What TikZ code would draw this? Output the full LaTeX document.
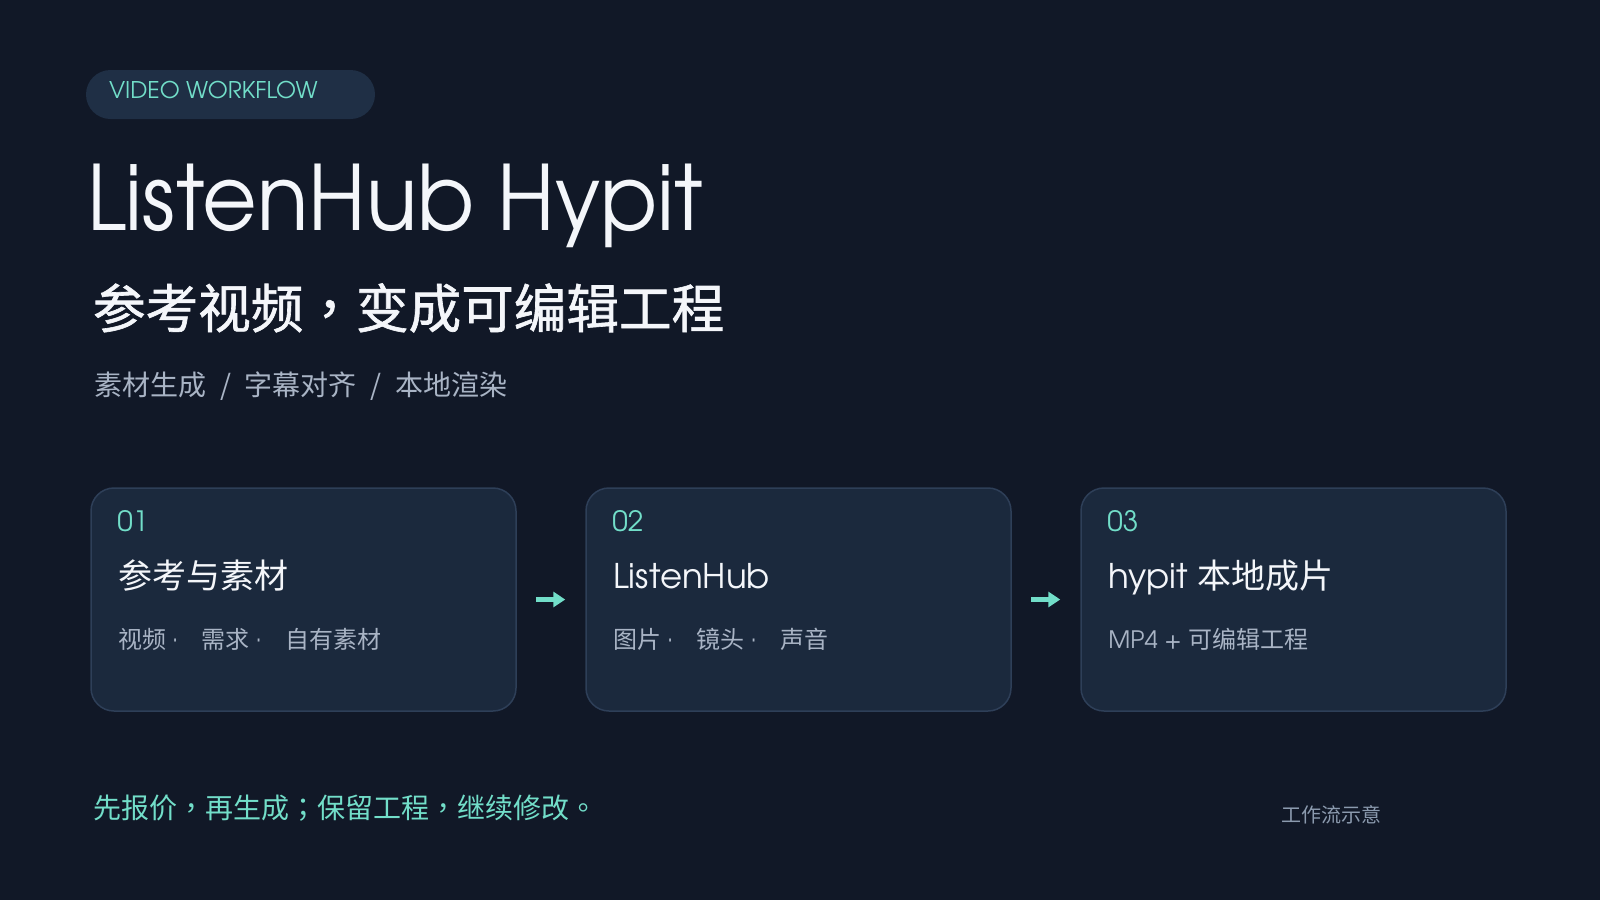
\documentclass[tikz,border=0pt]{standalone}
\usepackage{fontspec}
\IfFontExistsTF{texgyreadventor-regular.otf}
  {\setmainfont{texgyreadventor-regular.otf}
   \newfontfamily\ttl{texgyreadventor-regular.otf}[FakeStretch=0.935]}
  {\setmainfont{Poppins}
   \newfontfamily\ttl{Poppins}[FakeStretch=0.9]}
\newfontfamily\cjk{Noto Sans CJK SC}
\newfontfamily\cjkm{Noto Sans CJK SC}[FakeBold=1.2]
\newfontfamily\cjkp{Noto Sans CJK TC}
\newfontfamily\cjkpm{Noto Sans CJK TC}[FakeBold=1.2]
\newcommand\mydot{\hspace{3pt}\raisebox{1pt}{·}\hspace{12pt}}
\usetikzlibrary{calc,arrows.meta}
\definecolor{bg}{HTML}{111827}
\definecolor{pillc}{HTML}{1F2F45}
\definecolor{cardc}{HTML}{1B293D}
\definecolor{cardb}{HTML}{2E3F58}
\definecolor{teal}{HTML}{72DEC9}
\definecolor{wht}{HTML}{F4F6FA}
\definecolor{gry}{HTML}{A9B4C5}
\definecolor{capg}{HTML}{8B9AAE}
\begin{document}
\begin{tikzpicture}[x=0.5pt,y=-0.5pt,
  txt/.style={inner sep=0pt,outer sep=0pt,anchor=base west},
  pill/.style={fill=pillc,rounded corners=12.25pt,minimum width=144.5pt,minimum height=24.5pt,inner sep=0pt},
  card/.style={fill=cardc,draw=cardb,line width=0.75pt,rounded corners=11.5pt,minimum width=212.5pt,minimum height=111.5pt,inner sep=0pt},
  num/.style={txt,text=teal,font=\fontsize{14}{16}\selectfont},
  ctitle/.style={txt,text=wht,font=\fontsize{17}{20}\selectfont},
  csub/.style={txt,text=gry,font=\fontsize{12}{14}\selectfont},
  flow/.style={draw=teal,line width=2.2pt,-{Triangle[length=6pt,width=7.5pt]},shorten <=9.5pt,shorten >=10pt}]
\fill[bg] (0,0) rectangle (1600,900);
\useasboundingbox (0,0) rectangle (1600,900);
% tag
\node[pill] (tag) at (230.5,94.5) {};
\node[txt,text=teal,font=\fontsize{11.5}{14}\selectfont] (tagtxt) at (109,98) {VIDEO WORKFLOW};
% title
\node[txt,text=wht,font=\ttl\fontsize{45}{50}\selectfont] (title) at (87,230) {ListenHub Hypit};
\node[txt,text=wht,font=\cjkm\fontsize{26.3}{30}\selectfont] (subtitle) at (93,328) {参考视频{\cjkpm ，}变成可编辑工程};
\node[txt,text=gry,font=\cjk\fontsize{14}{16}\selectfont] (tags) at (94,395) {素材生成\hspace{7pt}/\hspace{7pt}字幕对齐\hspace{7pt}/\hspace{7pt}本地渲染};
% cards
\node[card] (c1) at (303.5,599.5) {};
\node[card] (c2) at (798.5,599.5) {};
\node[card] (c3) at (1293.5,599.5) {};
\node[num] (n1) at ($(c1.north west)+(27,44)$) {01};
\node[num] (n2) at ($(c2.north west)+(27,44)$) {02};
\node[num] (n3) at ($(c3.north west)+(27,44)$) {03};
\node[ctitle] (t1) at ($(c1.north west)+(28,101)$) {\cjk 参考与素材};
\node[ctitle] (t2) at ($(c2.north west)+(28,101)$) {ListenHub};
\node[ctitle] (t3) at ($(c3.north west)+(28,101)$) {hypit {\cjk 本地成片}};
\node[csub] (s1) at ($(c1.north west)+(28,161)$) {{\cjk 视频}\mydot{\cjk 需求}\mydot{\cjk 自有素材}};
\node[csub] (s2) at ($(c2.north west)+(28,161)$) {{\cjk 图片}\mydot{\cjk 镜头}\mydot{\cjk 声音}};
\node[csub] (s3) at ($(c3.north west)+(28,161)$) {MP4 + {\cjk 可编辑工程}};
\draw[flow] (c1.east) -- (c2.west);
\draw[flow] (c2.east) -- (c3.west);
% footer
\node[txt,text=teal,font=\cjk\fontsize{14}{16}\selectfont] (foot) at (93,818) {先报价{\cjkp ，}再生成{\cjkp ；}保留工程{\cjkp ，}继续修改{\cjkp 。}};
\node[txt,text=capg,font=\cjk\fontsize{10}{12}\selectfont] (cap) at (1281,822) {工作流示意};
\end{tikzpicture}
\end{document}
